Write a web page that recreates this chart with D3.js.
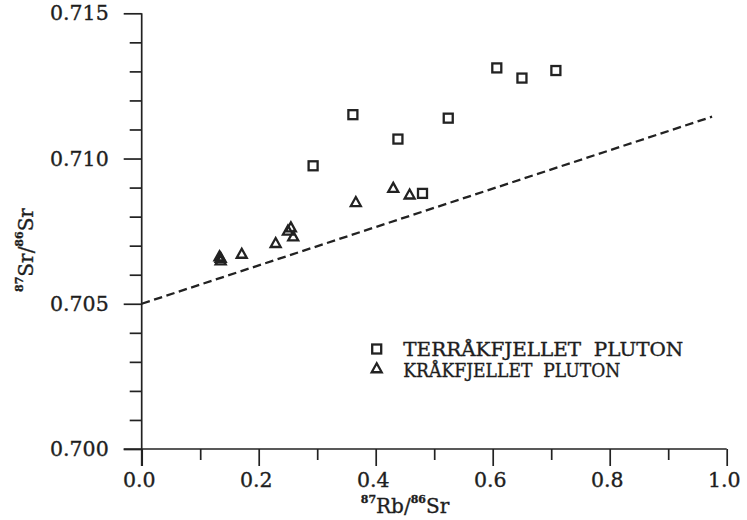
<!DOCTYPE html>
<html><head><meta charset="utf-8">
<script src="https://cdn.jsdelivr.net/npm/d3@7"></script>
<style>
html,body{margin:0;padding:0;background:#fff;}
svg{display:block;}
text{font-family:"DejaVu Serif",serif;fill:#1e1e1e;stroke:#1e1e1e;stroke-width:0.35px;}
</style></head>
<body>
<script>
// ---- data ----
const xTicks = [0.0, 0.2, 0.4, 0.6, 0.8, 1.0];
const xMinorTicks = [0.1, 0.3, 0.5, 0.7, 0.9];
const yTicks = [0.700, 0.705, 0.710, 0.715];
const yMinorTicks = [0.701, 0.702, 0.703, 0.704, 0.706, 0.707, 0.708, 0.709, 0.711, 0.712, 0.713, 0.714];

const terraX = [0.293, 0.361, 0.438, 0.524, 0.607, 0.650, 0.708, 0.480];
const terraY = [0.70975, 0.71151, 0.71067, 0.71139, 0.71312, 0.71277, 0.71303, 0.70880];

const kraX = [0.133, 0.135, 0.135, 0.171, 0.229, 0.250, 0.255, 0.259, 0.366, 0.430, 0.458];
const kraY = [0.70664, 0.70659, 0.70650, 0.70673, 0.70710, 0.70753, 0.70764, 0.70733, 0.70851, 0.70900, 0.70877];

const refLineX = [0.0, 0.975];
const refLineY = [0.705, 0.71144];

const legendLabels = ["TERRÅKFJELLET  PLUTON", "KRÅKFJELLET  PLUTON"];

// ---- drawing ----
const W = 747, H = 520;
const ink = "#222";
const svg = d3.select("body").append("svg").attr("width", W).attr("height", H);

const x = d3.scaleLinear().domain([0, 1]).range([141.7, 726.7]);
const y = d3.scaleLinear().domain([0.700, 0.715]).range([449, 13.3]);

// x axis
const gx = svg.append("g").attr("transform", `translate(0,${y(0.700)})`);
gx.call(d3.axisBottom(x).tickValues(xTicks).tickSize(17).tickPadding(6)
  .tickFormat(d3.format(".1f")));
const gxm = svg.append("g").attr("transform", `translate(0,${y(0.700)})`);
gxm.call(d3.axisBottom(x).tickValues(xMinorTicks).tickSize(11).tickFormat(""));

// y axis
const gy = svg.append("g").attr("transform", `translate(${x(0)},0)`);
gy.call(d3.axisLeft(y).tickValues(yTicks).tickSize(18).tickPadding(15)
  .tickFormat(d3.format(".3f")));
const gym = svg.append("g").attr("transform", `translate(${x(0)},0)`);
gym.call(d3.axisLeft(y).tickValues(yMinorTicks).tickSize(12).tickFormat(""));

[gx, gxm, gy, gym].forEach(g => {
  g.selectAll("path.domain").attr("stroke", ink).attr("stroke-width", 1.7);
  g.selectAll(".tick line").attr("stroke", ink).attr("stroke-width", 1.7);
});
gxm.select("path.domain").remove();
gym.select("path.domain").remove();
gx.select("path.domain").attr("d", `M${x(0) - 18},0H${x(1)}`);
gy.select("path.domain").attr("d", `M0,${y(0.715)}V${y(0.700) + 17}`);

gx.selectAll(".tick text").attr("font-size", 20.5).attr("fill", "#1e1e1e")
  .attr("font-family", "DejaVu Serif").attr("dx", -3);
gy.selectAll(".tick text").attr("font-size", 20.5).attr("fill", "#1e1e1e")
  .attr("font-family", "DejaVu Serif");

// reference dashed line
const line = d3.line().x(d => x(d[0])).y(d => y(d[1]));
svg.append("path")
  .datum(d3.zip(refLineX, refLineY))
  .attr("d", line)
  .attr("fill", "none").attr("stroke", ink).attr("stroke-width", 2.3)
  .attr("stroke-dasharray", "8.5,4.5");

// markers
const sq = 9;
function square(g, cx, cy) {
  g.append("rect").attr("x", cx - sq / 2).attr("y", cy - sq / 2)
    .attr("width", sq).attr("height", sq)
    .attr("fill", "none").attr("stroke", ink).attr("stroke-width", 2.3);
}
function triangle(g, cx, cy) {
  const w = 10, h = 8.5;
  g.append("path")
    .attr("d", `M${cx},${cy - h / 2 - 0.5}L${cx + w / 2},${cy + h / 2}L${cx - w / 2},${cy + h / 2}Z`)
    .attr("fill", "none").attr("stroke", ink).attr("stroke-width", 2.3)
    .attr("stroke-linejoin", "miter");
}
const gp = svg.append("g");
d3.zip(terraX, terraY).forEach(([a, b]) => square(gp, x(a), y(b)));
d3.zip(kraX, kraY).forEach(([a, b]) => triangle(gp, x(a), y(b)));

// legend
const gl = svg.append("g");
square(gl, 376.7, 349);
triangle(gl, 376.7, 368);
gl.append("text").attr("x", 403.3).attr("y", 355.5).attr("font-size", 18)
  .attr("xml:space", "preserve").style("white-space", "pre")
  .attr("textLength", 280).attr("lengthAdjust", "spacingAndGlyphs")
  .text(legendLabels[0]);
gl.append("text").attr("x", 403.3).attr("y", 376.5).attr("font-size", 18)
  .attr("xml:space", "preserve").style("white-space", "pre")
  .attr("textLength", 217).attr("lengthAdjust", "spacingAndGlyphs")
  .text(legendLabels[1]);

// axis titles
const xt = svg.append("text").attr("x", 405).attr("y", 513).attr("text-anchor", "middle")
  .attr("font-size", 20);
xt.append("tspan").attr("font-size", 11).attr("font-weight", "bold").attr("dy", -10).text("87");
xt.append("tspan").attr("dy", 10).text("Rb/");
xt.append("tspan").attr("font-size", 11).attr("font-weight", "bold").attr("dy", -10).text("86");
xt.append("tspan").attr("dy", 10).text("Sr");

const yt = svg.append("text").attr("transform", "translate(33,250) rotate(-90)")
  .attr("text-anchor", "middle").attr("font-size", 20);
yt.append("tspan").attr("font-size", 11).attr("font-weight", "bold").attr("dy", -10).text("87");
yt.append("tspan").attr("dy", 10).text("Sr/");
yt.append("tspan").attr("font-size", 11).attr("font-weight", "bold").attr("dy", -10).text("86");
yt.append("tspan").attr("dy", 10).text("Sr");
</script>
</body></html>
